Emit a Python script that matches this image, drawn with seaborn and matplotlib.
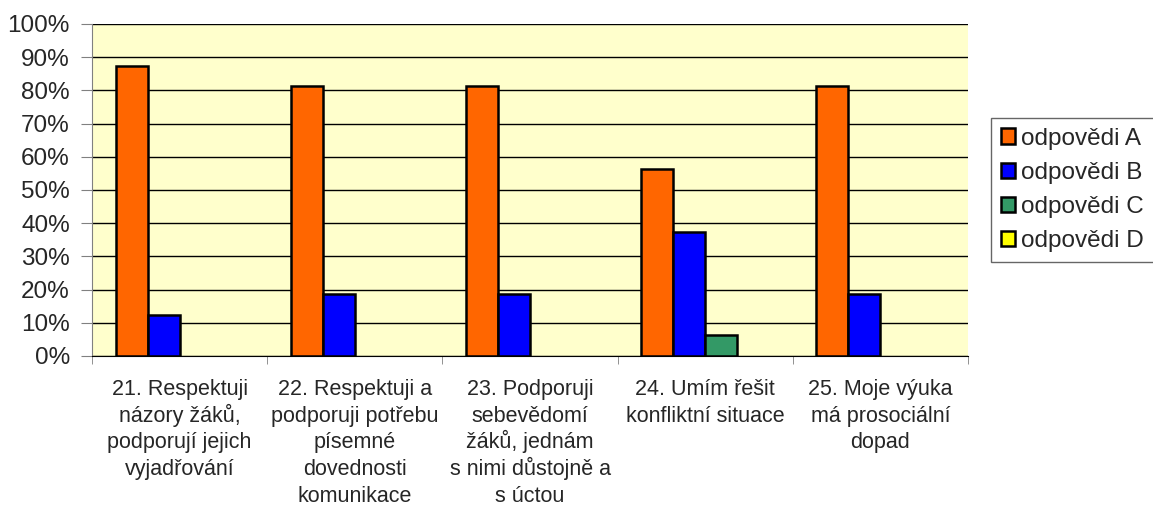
import matplotlib
matplotlib.use("Agg")
import matplotlib.pyplot as plt
import seaborn as sns
import pandas as pd
from matplotlib.patches import Patch
from matplotlib.ticker import MultipleLocator, FuncFormatter, FixedLocator

categories = [
    "21. Respektuji\nnázory žáků,\npodporují jejich\nvyjadřování",
    "22. Respektuji a\npodporuji potřebu\npísemné\ndovednosti\nkomunikace",
    "23. Podporuji\nsebevědomí\nžáků, jednám\ns nimi důstojně a\ns úctou",
    "24. Umím řešit\nkonfliktní situace",
    "25. Moje výuka\nmá prosociální\ndopad",
]
series_names = ["odpovědi A", "odpovědi B", "odpovědi C", "odpovědi D"]
values_A = [87.5, 81.25, 81.25, 56.25, 81.25]
values_B = [12.5, 18.75, 18.75, 37.5, 18.75]
values_C = [0, 0, 0, 6.25, 0]
values_D = [0, 0, 0, 0, 0]
colors = ["#FF6600", "#0000FF", "#339966", "#FFFF00"]

rows = []
for name, vals in zip(series_names, [values_A, values_B, values_C, values_D]):
    for c, v in zip(categories, vals):
        rows.append({"cat": c, "series": name, "value": v})
df = pd.DataFrame(rows)

sns.set_style("white")
plt.rcParams['font.family'] = ['Liberation Sans', 'DejaVu Sans']

fig = plt.figure(figsize=(11.53, 5.05), dpi=100)
ax = fig.add_axes([92/1153, 1-356/505, (968-92)/1153, (356-24)/505])
ax.set_facecolor("#FFFFCC")

sns.barplot(data=df, x="cat", y="value", hue="series", palette=colors,
            width=0.73, edgecolor="black", linewidth=1.8, ax=ax,
            saturation=1, legend=False, errorbar=None)

# Excel draws nothing for 0 values
for cont in ax.containers:
    for p in cont.patches:
        if p.get_height() == 0:
            p.set_visible(False)

ax.set_ylim(0, 100)
ax.set_xlim(-0.5, len(categories) - 0.5)
ax.yaxis.set_major_locator(MultipleLocator(10))
ax.yaxis.set_major_formatter(FuncFormatter(lambda v, p: f"{int(round(v))}%"))
ax.grid(axis="y", color="black", linewidth=1)
ax.set_axisbelow(True)
ax.set_xlabel("")
ax.set_ylabel("")

for side in ["top", "right"]:
    ax.spines[side].set_visible(False)
ax.spines["left"].set_color("#808080")
ax.spines["bottom"].set_color("black")

ax.tick_params(axis="y", labelsize=17.5, length=8, color="#808080", direction="out", left=True, pad=8)
ax.set_xticks(range(len(categories)))
ax.set_xticklabels([])
ax.tick_params(axis="x", which="major", length=0)
ax.xaxis.set_minor_locator(FixedLocator([i - 0.5 for i in range(len(categories) + 1)]))
ax.tick_params(axis="x", which="minor", length=6, color="#808080", bottom=True)

# category labels, one line at a time for even line spacing
for i, lab in enumerate(categories):
    for j, line in enumerate(lab.split("\n")):
        ax.annotate(line, xy=(i, 0), xycoords=("data", "axes fraction"),
                    xytext=(0, -28 - j * 19.2), textcoords="offset points",
                    ha="center", va="baseline", fontsize=15.5, annotation_clip=False)

handles = [Patch(facecolor=c, edgecolor="black", linewidth=1.8) for c in colors]
leg = ax.legend(handles, series_names, loc="center left",
                bbox_to_anchor=(991/1153, 1-190/505), bbox_transform=fig.transFigure,
                fontsize=17.5, frameon=True, fancybox=False, edgecolor="#404040",
                handlelength=0.6, handleheight=0.6, handletextpad=0.25,
                borderpad=0.4, labelspacing=0.5, borderaxespad=0)
leg.get_frame().set_linewidth(1)

fig.savefig("out.png", dpi=100)
